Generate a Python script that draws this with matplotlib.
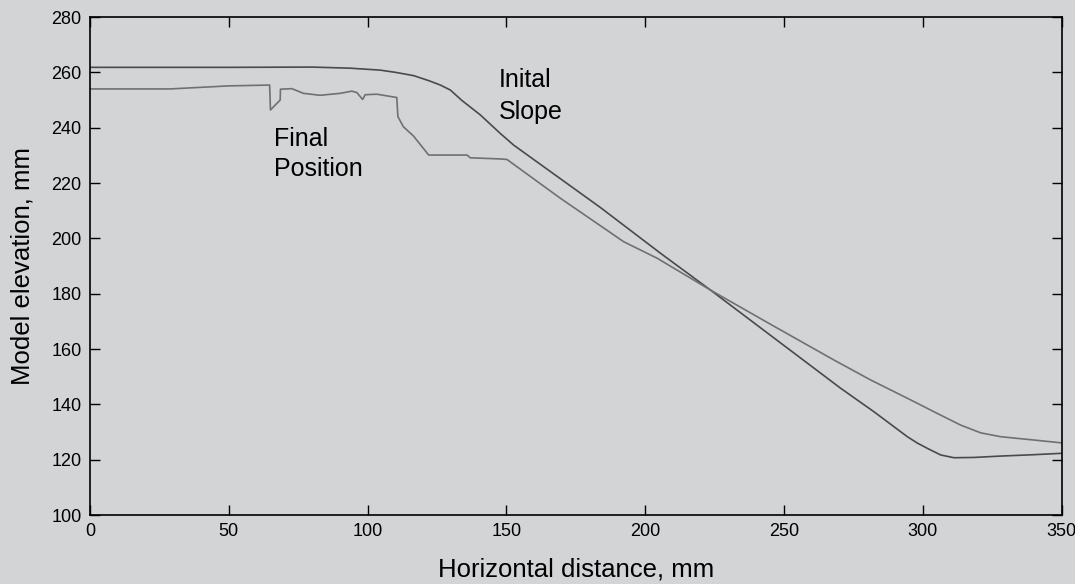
import matplotlib
matplotlib.use("Agg")
import matplotlib.pyplot as plt

# Initial slope profile
init_x = [0, 50, 80, 93.7, 104.5, 110, 116.6, 122, 126.2, 129.8, 134, 140.6, 147.8, 152.6,
          183.9, 205.5, 223.5, 270.4, 282.4, 294.4, 298, 301.6, 306.4, 311.2, 318.4, 328, 340, 350]
init_y = [261.8, 261.8, 261.9, 261.5, 260.8, 260.0, 258.8, 257.0, 255.4, 253.6, 249.8, 244.6, 237.9, 233.7,
          211.1, 194.6, 181.3, 145.8, 137.3, 128.3, 126.0, 124.1, 121.7, 120.7, 120.8, 121.3, 121.8, 122.3]

# Final position profile
final_x = [0, 28.8, 50, 64.7, 65.0, 68.5, 68.6, 72.7, 76.9, 82.9, 90.1, 94.3, 96.1, 98.2, 99.1,
           103.3, 110.5, 110.9, 112.9, 116.5, 122.0, 135.8, 137.0, 147.8, 150.2, 169.4, 192.2,
           195.8, 204.3, 223.5, 245, 268, 281.2, 294.4, 306.4, 313.6, 320.8, 328, 340, 349.7]
final_y = [254.0, 254.0, 255.1, 255.4, 246.4, 250.0, 253.9, 254.1, 252.4, 251.7, 252.4, 253.2, 252.7,
           250.2, 251.9, 252.1, 250.9, 244.0, 240.3, 237.0, 230.1, 230.1, 229.1, 228.7, 228.5,
           214.5, 198.8, 197.0, 192.8, 181.3, 169.0, 156.0, 148.8, 142.2, 136.1, 132.5, 129.7, 128.3, 127.1, 126.1]

x_ticks = [0, 50, 100, 150, 200, 250, 300, 350]
y_ticks = [100, 120, 140, 160, 180, 200, 220, 240, 260, 280]

bg = "#d3d4d6"
plt.rcParams['font.family'] = ['Liberation Sans', 'DejaVu Sans']

fig = plt.figure(figsize=(10.75, 5.84), dpi=100, facecolor=bg)
ax = fig.add_axes([90/1075, 1 - 515/584, (1061.7 - 90)/1075, (515 - 17)/584])
ax.set_facecolor(bg)

ax.plot(init_x, init_y, color="#4a4a4a", lw=1.2)
ax.plot(final_x, final_y, color="#707070", lw=1.2)

ax.set_xlim(0, 350)
ax.set_ylim(100, 280)
ax.set_xticks(x_ticks)
ax.set_yticks(y_ticks)
ax.tick_params(direction='in', length=7.5, width=1, top=True, right=True,
               labelsize=13, colors='black', pad=6)
for s in ax.spines.values():
    s.set_linewidth(1.2)
    s.set_color('black')

ax.set_xlabel("Horizontal distance, mm", fontsize=18.5, labelpad=12)
ax.set_ylabel("Model elevation, mm", fontsize=18.5, labelpad=12)

ax.text(66.3, 233.4, "Final", fontsize=18, va='baseline', ha='left')
ax.text(66.3, 222.4, "Position", fontsize=18, va='baseline', ha='left')
ax.text(147.1, 254.8, "Inital", fontsize=18, va='baseline', ha='left')
ax.text(147.1, 243.2, "Slope", fontsize=18, va='baseline', ha='left')

fig.savefig("out.png", dpi=100, facecolor=bg)
